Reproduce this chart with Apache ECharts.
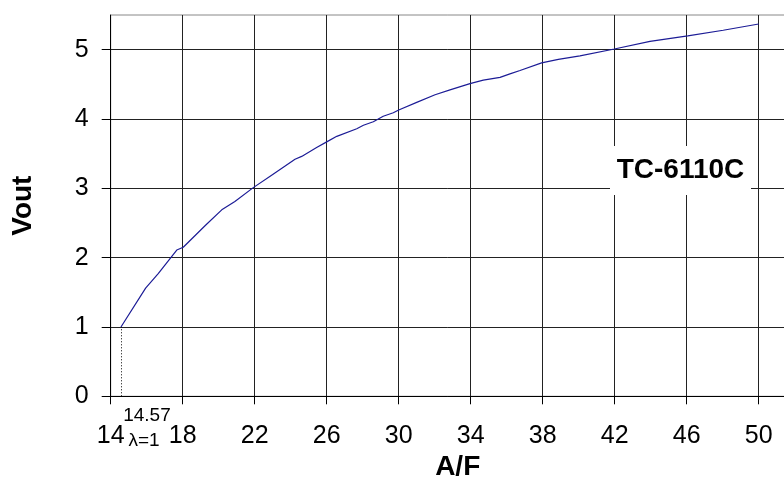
<!DOCTYPE html>
<html>
<head>
<meta charset="utf-8">
<script src="https://cdn.jsdelivr.net/npm/echarts@6/dist/echarts.min.js"></script>
<style>
html,body{margin:0;padding:0;background:#fff;}
#c{width:784px;height:478px;}
</style>
</head>
<body>
<div id="c"></div>
<script>
// Data
const afValues = [14.57, 15.94, 16.64, 17.67, 18.03, 19.24, 20.17, 20.90, 21.92, 22.94, 24.24, 24.61, 25.44, 26.00, 26.56, 27.67, 28.04, 28.59, 29.14, 29.70, 30.00, 31.00, 32.02, 32.85, 33.96, 34.70, 35.63, 36.18, 36.74, 37.94, 38.87, 40.07, 41.98, 43.96, 46.06, 48.03, 50.00];
const voutValues = [1.00, 1.56, 1.77, 2.11, 2.15, 2.46, 2.69, 2.81, 3.01, 3.19, 3.42, 3.46, 3.59, 3.67, 3.75, 3.86, 3.91, 3.96, 4.04, 4.09, 4.13, 4.24, 4.35, 4.42, 4.51, 4.56, 4.60, 4.65, 4.70, 4.81, 4.86, 4.91, 5.01, 5.12, 5.20, 5.28, 5.37];
const xTicks = [14, 18, 22, 26, 30, 34, 38, 42, 46, 50];
const yTicks = [0, 1, 2, 3, 4, 5];
const lambdaAF = 14.57;
const lambdaV = 1.0;
const modelName = 'TC-6110C';

const FONT = '"Liberation Sans", Arial, sans-serif';
const chart = echarts.init(document.getElementById('c'), null, {renderer: 'canvas'});
const seriesData = afValues.map((v, i) => [v, voutValues[i]]);

chart.setOption({
  animation: false,
  backgroundColor: '#fff',
  grid: {left: 110.7, top: 15, width: 684, height: 381.3, containLabel: false, outerBoundsMode: 'none', show: true, borderColor: '#888', borderWidth: 1, backgroundColor: 'transparent'},
  xAxis: {
    type: 'value', min: 14, max: 52, interval: 4,
    name: 'A/F', nameLocation: 'middle', nameGap: 57,
    nameTextStyle: {fontFamily: FONT, fontSize: 28, fontWeight: 'bold', color: '#000', padding: [0, 0, 0, 10]},
    axisLine: {show: true, lineStyle: {color: '#000', width: 1}},
    axisTick: {show: true, inside: false, length: 8, lineStyle: {color: '#000'}, customValues: xTicks},
    axisLabel: {fontFamily: FONT, fontSize: 25, color: '#000', margin: 27, customValues: xTicks},
    splitLine: {show: true, lineStyle: {color: '#222', width: 1}}
  },
  yAxis: {
    type: 'value', min: 0, max: 5.5, interval: 1,
    name: 'Vout', nameLocation: 'middle', nameGap: 73,
    nameTextStyle: {fontFamily: FONT, fontSize: 28, fontWeight: 'bold', color: '#000'},
    axisLine: {show: true, lineStyle: {color: '#000', width: 1}},
    axisTick: {show: true, inside: false, length: 9, lineStyle: {color: '#000'}, customValues: yTicks},
    axisLabel: {fontFamily: FONT, fontSize: 25, color: '#000', margin: 22, customValues: yTicks},
    splitLine: {show: true, lineStyle: {color: '#222', width: 1}}
  },
  series: [{
    type: 'line',
    data: seriesData,
    showSymbol: false,
    symbol: 'none',
    lineStyle: {color: '#1c1c96', width: 1.2},
    markLine: {
      silent: true,
      symbol: ['none', 'none'],
      label: {show: false},
      lineStyle: {type: [1, 2], color: '#000', width: 1},
      data: [[{coord: [lambdaAF, 0]}, {coord: [lambdaAF, lambdaV]}]]
    }
  }]
});

const p0 = chart.convertToPixel({gridIndex: 0}, [lambdaAF, 0]);
chart.setOption({
  graphic: [
    {type: 'text', x: p0[0] + 26, y: p0[1] + 19.5, style: {text: String(lambdaAF), font: '19px ' + FONT, fill: '#000', align: 'center', verticalAlign: 'middle'}},
    {type: 'text', x: p0[0] + 23, y: p0[1] + 44, style: {text: 'λ=1', font: '19px ' + FONT, fill: '#000', align: 'center', verticalAlign: 'middle'}},
    {type: 'rect', shape: {x: 610, y: 146, width: 141, height: 49}, style: {fill: '#fff'}},
    {type: 'text', x: 680.5, y: 170.5, style: {text: modelName, font: 'bold 28px ' + FONT, fill: '#000', align: 'center', verticalAlign: 'middle'}}
  ]
});
</script>
</body>
</html>
